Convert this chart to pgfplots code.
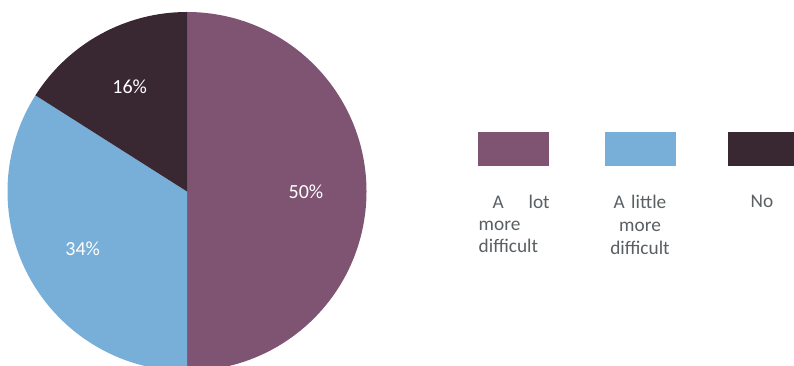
\documentclass[border=0pt]{standalone}
\usepackage{pgfplots}
\usepackage{pgfplotstable}
\pgfplotsset{compat=1.18}
\usetikzlibrary{calc}
\usepackage{fontspec}
\setmainfont{Carlito}
\definecolor{cPurple}{HTML}{7F5472}
\definecolor{cBlue}{HTML}{78AFD9}
\definecolor{cDark}{HTML}{392832}
\definecolor{cText}{HTML}{595F62}

\pgfplotstableread{
value
50
34
16
}\piedata

\begin{document}
\begin{tikzpicture}
\pgfplotstablegetelem{0}{value}\of\piedata \let\vA\pgfplotsretval
\pgfplotstablegetelem{1}{value}\of\piedata \let\vB\pgfplotsretval
\pgfplotstablegetelem{2}{value}\of\piedata \let\vC\pgfplotsretval
\pgfmathsetmacro\aZero{90}
\pgfmathsetmacro\aA{\aZero-3.6*\vA}
\pgfmathsetmacro\aB{\aA-3.6*\vB}
\pgfmathsetmacro\aC{\aB-3.6*\vC}
\pgfmathsetmacro\mA{(\aZero+\aA)/2}
\pgfmathsetmacro\mB{(\aA+\aB)/2}
\pgfmathsetmacro\mC{(\aB+\aC)/2}
\def\R{179.5pt}
\def\L{119pt}
\begin{axis}[
  at={(0,0)}, anchor=south west,
  scale only axis, width=794pt, height=366pt,
  xmin=0, xmax=794, ymin=0, ymax=366,
  hide axis, clip=true,
]
% pie slices
\fill[cPurple] (axis cs:187,174.5) -- ++(\aZero:\R) arc[start angle=\aZero, end angle=\aA, radius=\R] -- cycle;
\fill[cBlue]   (axis cs:187,174.5) -- ++(\aA:\R) arc[start angle=\aA, end angle=\aB, radius=\R] -- cycle;
\fill[cDark]   (axis cs:187,174.5) -- ++(\aB:\R) arc[start angle=\aB, end angle=\aC, radius=\R] -- cycle;
% slice labels
\node[text=white, font=\fontsize{20}{24}\selectfont] at ($(axis cs:187,174.5)+(\mA:\L)$) {\vA\%};
\node[text=white, font=\fontsize{20}{24}\selectfont] at ($(axis cs:187,174.5)+(\mB:\L)$) {\vB\%};
\node[text=white, font=\fontsize{20}{24}\selectfont] at ($(axis cs:187,174.5)+(\mC:\L)$) {\vC\%};
% legend keys
\fill[cPurple] (axis cs:478,234) rectangle (axis cs:549,199.5);
\fill[cBlue]   (axis cs:605,234) rectangle (axis cs:676,199.5);
\fill[cDark]   (axis cs:728,234) rectangle (axis cs:799,199.5);
% legend labels
\node[anchor=north west, inner sep=0pt, text width=71pt, align=left, text=cText,
      font=\fontsize{19.3}{21.8}\selectfont] at (axis cs:478.5,171)
  {\hspace*{14pt}A\hfill lot\\more\\difficult};
\node[anchor=north, inner sep=0pt, text width=75pt, align=center, text=cText,
      font=\fontsize{19.3}{23}\selectfont] at (axis cs:640,171)
  {A little\\more\\difficult};
\node[anchor=north, inner sep=0pt, text=cText,
      font=\fontsize{19.3}{22}\selectfont] at (axis cs:762,171)
  {No};
\end{axis}
\pgfresetboundingbox
\useasboundingbox (0,0) rectangle (794pt,366pt);
\end{tikzpicture}
\end{document}
